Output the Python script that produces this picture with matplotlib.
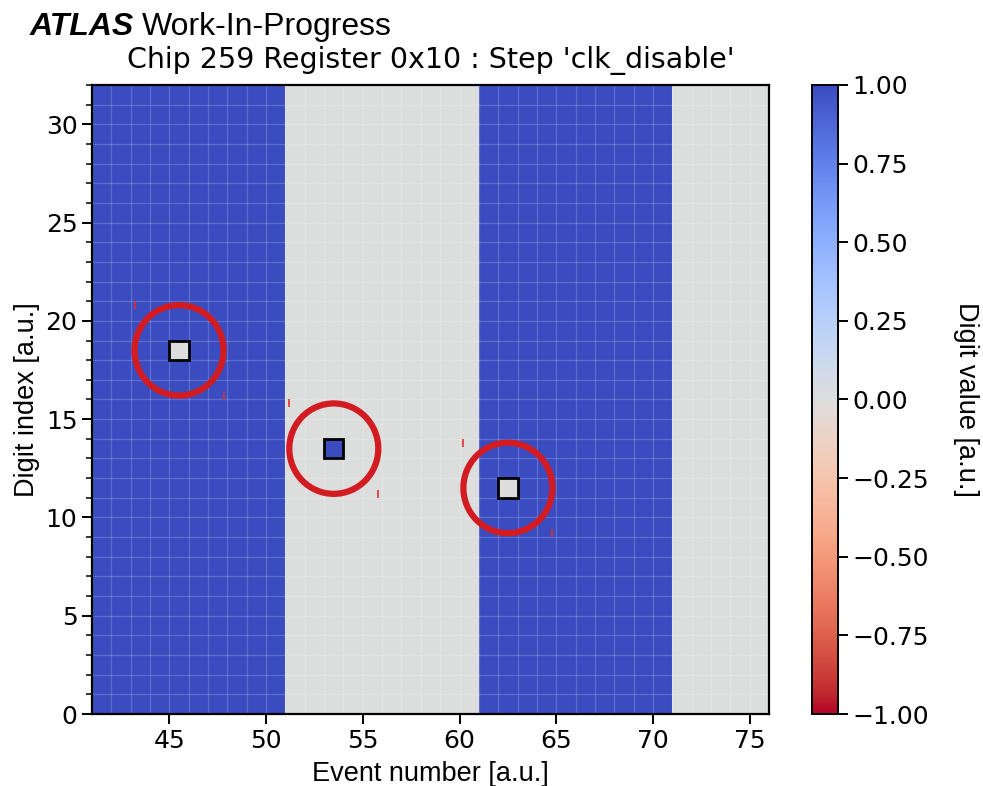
import matplotlib
matplotlib.use("Agg")
import matplotlib.pyplot as plt
import numpy as np
from matplotlib.patches import Circle, Rectangle

# event numbers shown on the x axis and the digit value each event carries
event_numbers = list(range(41, 76))
event_values = [1, 1, 1, 1, 1, 1, 1, 1, 1, 1,
                0, 0, 0, 0, 0, 0, 0, 0, 0, 0,
                1, 1, 1, 1, 1, 1, 1, 1, 1, 1,
                0, 0, 0, 0, 0]
n_digits = 32

# flipped digits: (event, digit index, value)
flip_events = [45, 53, 62]
flip_digits = [18, 13, 11]
flip_values = [0, 1, 0]

circle_radius = 2.3

title = "Chip 259 Register 0x10 : Step 'clk_disable'"
label_font = "Liberation Sans"

values = np.tile(np.array(event_values, dtype=float), (n_digits, 1))
for ev, dig, val in zip(flip_events, flip_digits, flip_values):
    values[dig, event_numbers.index(ev)] = val

x_edges = np.arange(event_numbers[0], event_numbers[-1] + 2)
y_edges = np.arange(0, n_digits + 1)

fig = plt.figure(figsize=(9.83, 7.86), dpi=100)
ax = fig.add_axes([0.0936, 0.0916, 0.6887, 0.8003])
cax = fig.add_axes([0.826, 0.0916, 0.0264, 0.8003])

mesh = ax.pcolormesh(x_edges, y_edges, values, cmap="coolwarm_r", vmin=-1, vmax=1)

# faint cell grid
ax.vlines(x_edges, 0, n_digits, colors="white", alpha=0.18, linewidth=0.9, zorder=2)
ax.hlines(y_edges, x_edges[0], x_edges[-1], colors="white", alpha=0.18, linewidth=0.9, zorder=2)

for ev, dig in zip(flip_events, flip_digits):
    ax.add_patch(
        Rectangle((ev, dig), 1, 1, facecolor="none", edgecolor="black", linewidth=2.0, zorder=3)
    )
    cx, cy = ev + 0.5, dig + 0.5
    ax.add_patch(
        Circle((cx, cy), circle_radius, facecolor="none", edgecolor="#d21c22", linewidth=4.5, zorder=4)
    )
    ax.plot(
        [cx - circle_radius, cx + circle_radius],
        [cy + circle_radius, cy - circle_radius],
        "|",
        color="#e03030",
        alpha=0.85,
        markersize=6,
        markeredgewidth=1.4,
        zorder=4,
    )

ax.set_xlim(41, 76)
ax.set_ylim(0, 32)
ax.set_xticks([45, 50, 55, 60, 65, 70, 75])
ax.set_yticks([0, 5, 10, 15, 20, 25, 30])
ax.set_yticks(np.arange(0, 33), minor=True)
ax.tick_params(axis="both", which="major", labelsize=18, length=7, width=1.4)
ax.tick_params(axis="y", which="minor", length=4, width=1.1)
for spine in ax.spines.values():
    spine.set_linewidth(1.6)

ax.set_xlabel("Event number [a.u.]", fontsize=19.5, family=label_font, labelpad=6)
ax.set_ylabel("Digit index [a.u.]", fontsize=19.5, family=label_font, labelpad=4)
ax.set_title(title, fontsize=20.5, pad=12)

cbar = fig.colorbar(mesh, cax=cax)
cbar.set_ticks(np.arange(-1, 1.01, 0.25))
cbar.ax.tick_params(labelsize=18, length=7, width=1.4)
cbar.outline.set_linewidth(1.4)
cbar.set_label("Digit value [a.u.]", fontsize=19.5, family=label_font, rotation=270, labelpad=36)

t1 = fig.text(0.03, 0.985, "ATLAS", fontsize=23, family=label_font,
              fontweight="bold", fontstyle="italic", va="top", ha="left")
fig.canvas.draw()
bb = t1.get_window_extent().transformed(fig.transFigure.inverted())
fig.text(bb.x1 + 0.008, 0.985, "Work-In-Progress", fontsize=23, family=label_font,
         va="top", ha="left")

fig.savefig("out.png", dpi=100)
